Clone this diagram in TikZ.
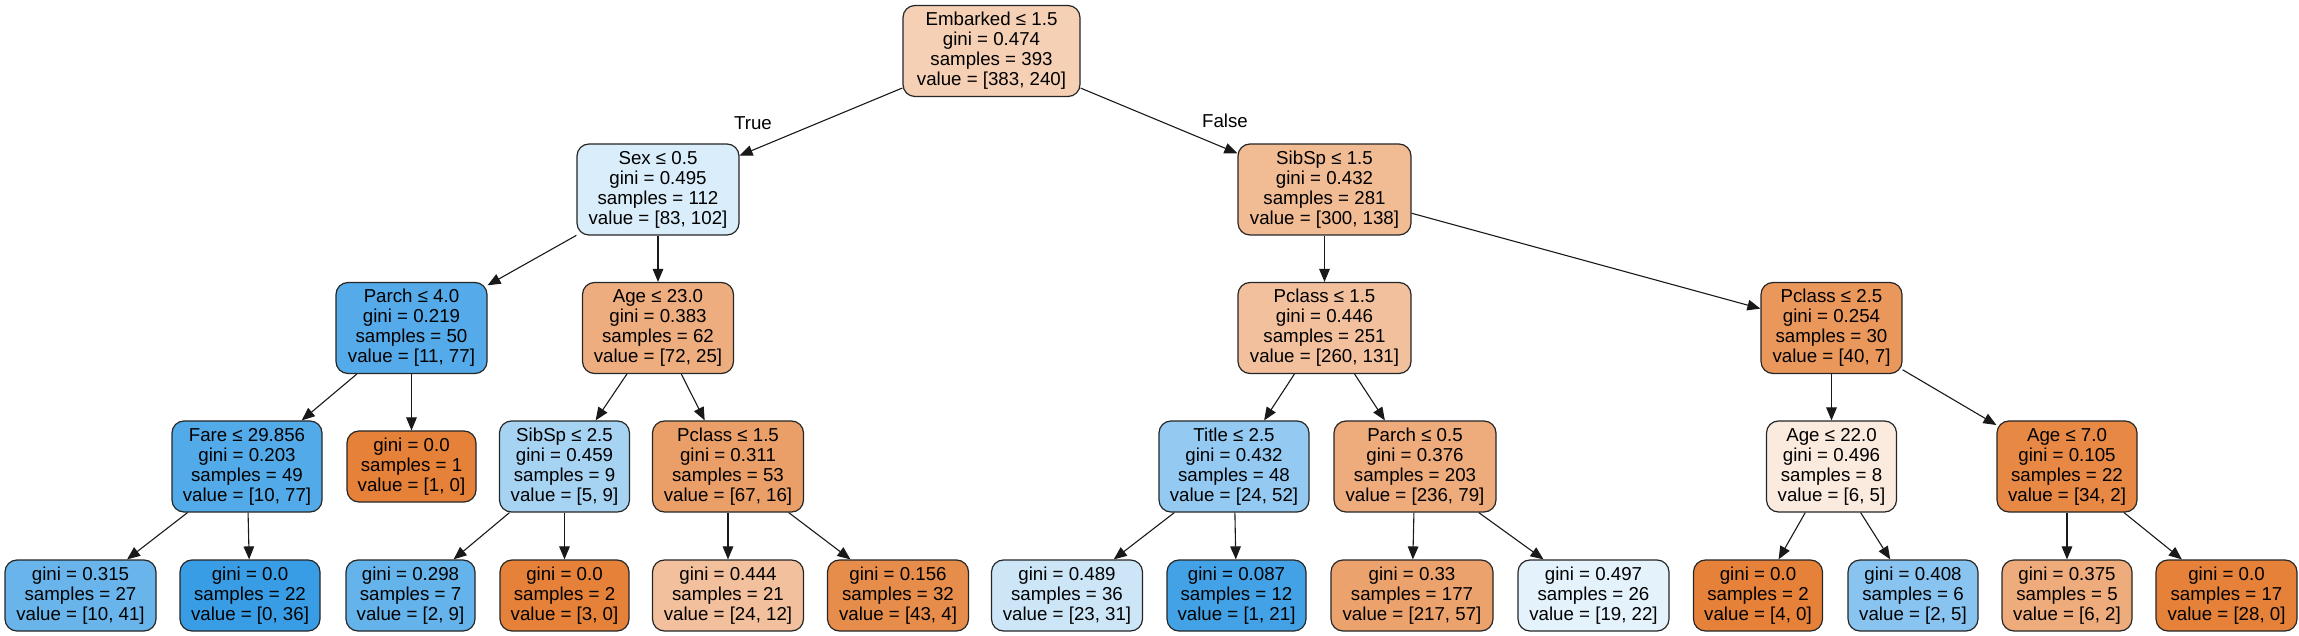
\documentclass[tikz,border=0pt]{standalone}
\usepackage{fontspec}
\setmainfont{Liberation Sans}
\usetikzlibrary{arrows.meta}
\definecolor{orng}{RGB}{229,129,57}
\definecolor{blu}{RGB}{57,157,229}
\newcommand{\tnfont}{\fontsize{9.35pt}{10pt}\selectfont}
\tikzset{
  tn/.style={draw=black!85, line width=0.6pt, rounded corners=6pt, align=center,
    font=\tnfont, inner sep=0pt, minimum height=45.5pt},
  lf/.style={tn, minimum height=35.5pt},
  w/.style={minimum width=#1*0.5pt},
  edge/.style={line width=0.55pt, draw=black!90, -{Triangle[length=6.5pt,width=5.3pt]}},
  elabel/.style={font=\tnfont, inner sep=0pt}
}
\begin{document}
\begin{tikzpicture}[x=0.5pt,y=-0.5pt]
\useasboundingbox (0,0) rectangle (2299,636);
% level 1
\node[tn,w=177,fill=orng!37.3] (root) at (991.5,51) {Embarked ≤ 1.5\\gini = 0.474\\samples = 393\\value = [383, 240]};
% level 2
\node[tn,w=162,fill=blu!18.6] (sex) at (658,189.5) {Sex ≤ 0.5\\gini = 0.495\\samples = 112\\value = [83, 102]};
\node[tn,w=173,fill=orng!54] (sib1) at (1324.5,189.5) {SibSp ≤ 1.5\\gini = 0.432\\samples = 281\\value = [300, 138]};
% level 3
\node[tn,w=151,fill=blu!85.7] (parch4) at (411.5,328) {Parch ≤ 4.0\\gini = 0.219\\samples = 50\\value = [11, 77]};
\node[tn,w=151,fill=orng!65.3] (age23) at (658,328) {Age ≤ 23.0\\gini = 0.383\\samples = 62\\value = [72, 25]};
\node[tn,w=173,fill=orng!49.6] (pcla) at (1324.5,328) {Pclass ≤ 1.5\\gini = 0.446\\samples = 251\\value = [260, 131]};
\node[tn,w=141,fill=orng!82.5] (pcl25) at (1831.5,328) {Pclass ≤ 2.5\\gini = 0.254\\samples = 30\\value = [40, 7]};
% level 4
\node[tn,w=150,fill=blu!87] (fare) at (247,466.5) {Fare ≤ 29.856\\gini = 0.203\\samples = 49\\value = [10, 77]};
\node[lf,w=129,fill=orng] (ls1) at (411.5,466.5) {gini = 0.0\\samples = 1\\value = [1, 0]};
\node[tn,w=130,fill=blu!44.4] (sib25) at (564.5,466.5) {SibSp ≤ 2.5\\gini = 0.459\\samples = 9\\value = [5, 9]};
\node[tn,w=151,fill=orng!76.1] (pclb) at (728,466.5) {Pclass ≤ 1.5\\gini = 0.311\\samples = 53\\value = [67, 16]};
\node[tn,w=150,fill=blu!53.8] (title) at (1234,466.5) {Title ≤ 2.5\\gini = 0.432\\samples = 48\\value = [24, 52]};
\node[tn,w=162,fill=orng!66.5] (parch05) at (1415,466.5) {Parch ≤ 0.5\\gini = 0.376\\samples = 203\\value = [236, 79]};
\node[tn,w=130,fill=orng!16.7] (age22) at (1831.5,466.5) {Age ≤ 22.0\\gini = 0.496\\samples = 8\\value = [6, 5]};
\node[tn,w=140,fill=orng!94.1] (age7) at (2067,466.5) {Age ≤ 7.0\\gini = 0.105\\samples = 22\\value = [34, 2]};
% level 5
\node[lf,w=151,fill=blu!75.6] (l1) at (80.5,595.5) {gini = 0.315\\samples = 27\\value = [10, 41]};
\node[lf,w=140,fill=blu] (l2) at (250,595.5) {gini = 0.0\\samples = 22\\value = [0, 36]};
\node[lf,w=129,fill=blu!77.8] (l3) at (410.5,595.5) {gini = 0.298\\samples = 7\\value = [2, 9]};
\node[lf,w=129,fill=orng] (l4) at (564.5,595.5) {gini = 0.0\\samples = 2\\value = [3, 0]};
\node[lf,w=151,fill=orng!50] (l5) at (728,595.5) {gini = 0.444\\samples = 21\\value = [24, 12]};
\node[lf,w=141,fill=orng!90.7] (l6) at (898,595.5) {gini = 0.156\\samples = 32\\value = [43, 4]};
\node[lf,w=151,fill=blu!25.8] (l7) at (1067,595.5) {gini = 0.489\\samples = 36\\value = [23, 31]};
\node[lf,w=139,fill=blu!95.2] (l8) at (1236.5,595.5) {gini = 0.087\\samples = 12\\value = [1, 21]};
\node[lf,w=162,fill=orng!73.7] (l9) at (1412,595.5) {gini = 0.33\\samples = 177\\value = [217, 57]};
\node[lf,w=151,fill=blu!13.6] (l10) at (1593.5,595.5) {gini = 0.497\\samples = 26\\value = [19, 22]};
\node[lf,w=129,fill=orng] (l11) at (1758,595.5) {gini = 0.0\\samples = 2\\value = [4, 0]};
\node[lf,w=130,fill=blu!60] (l12) at (1913,595.5) {gini = 0.408\\samples = 6\\value = [2, 5]};
\node[lf,w=130,fill=orng!66.7] (l13) at (2067,595.5) {gini = 0.375\\samples = 5\\value = [6, 2]};
\node[lf,w=141,fill=orng] (l14) at (2226.5,595.5) {gini = 0.0\\samples = 17\\value = [28, 0]};
% edges
\draw[edge] (root) -- (sex);
\draw[edge] (root) -- (sib1);
\draw[edge] (sex) -- (parch4);
\draw[edge] (sex) -- (age23);
\draw[edge] (sib1) -- (pcla);
\draw[edge] (sib1) -- (pcl25);
\draw[edge] (parch4) -- (fare);
\draw[edge] (parch4) -- (ls1);
\draw[edge] (age23) -- (sib25);
\draw[edge] (age23) -- (pclb);
\draw[edge] (pcla) -- (title);
\draw[edge] (pcla) -- (parch05);
\draw[edge] (pcl25) -- (age22);
\draw[edge] (pcl25) -- (age7);
\draw[edge] (fare) -- (l1);
\draw[edge] (fare) -- (l2);
\draw[edge] (sib25) -- (l3);
\draw[edge] (sib25) -- (l4);
\draw[edge] (pclb) -- (l5);
\draw[edge] (pclb) -- (l6);
\draw[edge] (title) -- (l7);
\draw[edge] (title) -- (l8);
\draw[edge] (parch05) -- (l9);
\draw[edge] (parch05) -- (l10);
\draw[edge] (age22) -- (l11);
\draw[edge] (age22) -- (l12);
\draw[edge] (age7) -- (l13);
\draw[edge] (age7) -- (l14);
% edge labels
\node[elabel] (ltrue) at (753,123) {True};
\node[elabel] (lfalse) at (1225,121) {False};
\end{tikzpicture}
\end{document}
